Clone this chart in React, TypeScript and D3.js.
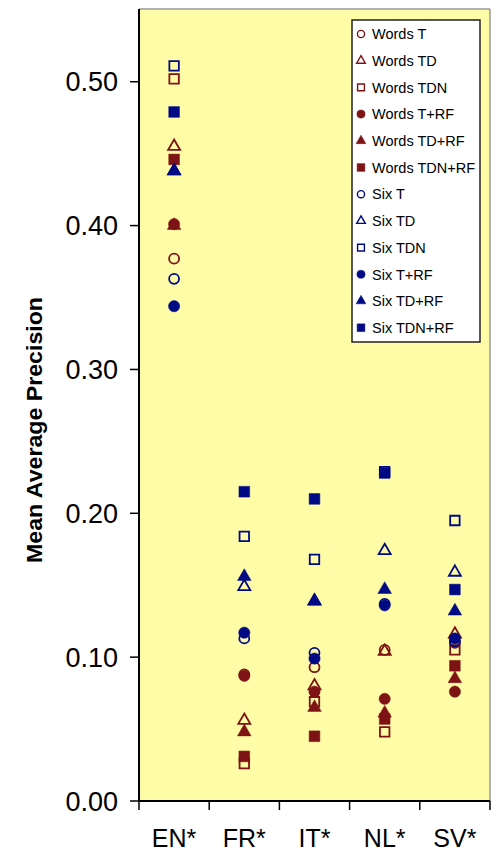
import React from "react";
import * as d3 from "d3";

const categories = ["EN*", "FR*", "IT*", "NL*", "SV*"];
const yTicks = [0, 0.1, 0.2, 0.3, 0.4, 0.5];

const seriesNames = [
  "Words T", "Words TD", "Words TDN", "Words T+RF", "Words TD+RF", "Words TDN+RF",
  "Six T", "Six TD", "Six TDN", "Six T+RF", "Six TD+RF", "Six TDN+RF",
];
const wordsT = [0.377, 0.088, 0.093, 0.105, 0.110];
const wordsTD = [0.455, 0.056, 0.080, 0.104, 0.116];
const wordsTDN = [0.502, 0.026, 0.069, 0.048, 0.105];
const wordsTRF = [0.401, 0.087, 0.076, 0.071, 0.076];
const wordsTDRF = [0.400, 0.048, 0.065, 0.061, 0.085];
const wordsTDNRF = [0.446, 0.031, 0.045, 0.057, 0.094];
const sixT = [0.363, 0.113, 0.103, 0.137, 0.111];
const sixTD = [0.438, 0.149, 0.139, 0.174, 0.159];
const sixTDN = [0.511, 0.184, 0.168, 0.229, 0.195];
const sixTRF = [0.344, 0.117, 0.099, 0.136, 0.113];
const sixTDRF = [0.438, 0.156, 0.139, 0.147, 0.132];
const sixTDNRF = [0.479, 0.215, 0.210, 0.228, 0.147];
const seriesValues = [wordsT, wordsTD, wordsTDN, wordsTRF, wordsTDRF, wordsTDNRF,
  sixT, sixTD, sixTDN, sixTRF, sixTDRF, sixTDNRF];

const RED = "#7d1315";
const BLUE = "#000a84";
const BG = "#fffca8";

type Shape = "circle" | "triangle" | "square";
const shapes: Shape[] = ["circle", "triangle", "square", "circle", "triangle", "square",
  "circle", "triangle", "square", "circle", "triangle", "square"];
const filled = [false, false, false, true, true, true, false, false, false, true, true, true];
const colors = seriesNames.map((n) => (n.startsWith("Words") ? RED : BLUE));

function markerPath(shape: Shape, scale: number, open: boolean) {
  const shrink = open ? 0.78 : 1;
  if (shape === "circle") return d3.symbol(d3.symbolCircle, 100 * scale * scale * shrink)()!;
  if (shape === "square") return d3.symbol(d3.symbolSquare, 115 * scale * scale * shrink)()!;
  return d3.symbol(d3.symbolTriangle, 80 * scale * scale * shrink)()!;
}

export default function App() {
  const W = 499, H = 854;
  const left = 139, right = 490, top = 9, bottom = 801;
  const x = d3.scaleBand().domain(categories).range([left, right]);
  const y = d3.scaleLinear().domain([0, 0.55]).range([bottom, bottom - 0.55 * 1438.5]);
  const font = "Arial, 'Liberation Sans', Helvetica, sans-serif";
  const boundaries = d3.range(categories.length + 1).map((i) => left + i * x.bandwidth());

  const legX = 352, legY = 20, legW = 128, legH = 322;
  const rowH = 26.7;

  return (
    <svg width={W} height={H} style={{ position: "absolute", left: 0, top: 0, background: "#fff" }}>
      <rect x={left} y={top} width={right - left} height={bottom - top} fill={BG} />
      <line x1={left} x2={right} y1={top} y2={top} stroke="#999" strokeWidth={1.5} />
      <line x1={right} x2={right} y1={top} y2={bottom} stroke="#999" strokeWidth={1.5} />
      <line x1={left} x2={left} y1={top} y2={bottom + 1} stroke="#000" strokeWidth={2} />
      <line x1={left} x2={right} y1={bottom} y2={bottom} stroke="#000" strokeWidth={2} />
      {yTicks.map((t) => (
        <g key={t}>
          <line x1={left - 9} x2={left} y1={y(t)} y2={y(t)} stroke="#000" strokeWidth={1.5} />
          <text x={118} y={y(t)} dy="0.36em" textAnchor="end" fontFamily={font} fontSize={27}>
            {d3.format(".2f")(t)}
          </text>
        </g>
      ))}
      {boundaries.map((b, i) => (
        <line key={i} x1={b} x2={b} y1={bottom} y2={bottom + 9} stroke="#000" strokeWidth={1.5} />
      ))}
      {categories.map((c) => (
        <text key={c} x={x(c)! + x.bandwidth() / 2} y={847} textAnchor="middle" fontFamily={font} fontSize={25}>
          {c}
        </text>
      ))}
      <text
        transform={`translate(42,430) rotate(-90)`}
        textAnchor="middle"
        fontFamily={font}
        fontWeight="bold"
        fontSize={22}
        textLength={266}
        lengthAdjust="spacingAndGlyphs"
      >
        Mean Average Precision
      </text>
      {seriesValues.map((vals, si) => (
        <g key={si}>
          {vals.map((v, ci) => (
            <path
              key={ci}
              d={markerPath(shapes[si], 1, !filled[si])}
              transform={`translate(${x(categories[ci])! + x.bandwidth() / 2},${y(v)})`}
              fill={filled[si] ? colors[si] : "none"}
              stroke={colors[si]}
              strokeWidth={filled[si] ? 0.5 : 1.8}
            />
          ))}
        </g>
      ))}
      <rect x={legX} y={legY} width={legW} height={legH} fill="#fff" stroke="#222" strokeWidth={1.5} />
      {seriesNames.map((n, i) => {
        const cy = legY + 14 + i * rowH;
        return (
          <g key={n}>
            <path
              d={markerPath(shapes[i], 0.72, !filled[i])}
              transform={`translate(${legX + 9},${cy})`}
              fill={filled[i] ? colors[i] : "none"}
              stroke={colors[i]}
              strokeWidth={filled[i] ? 0.5 : 1.4}
            />
            <text x={legX + 20} y={cy} dy="0.36em" fontFamily={font} fontSize={14.5}>
              {n}
            </text>
          </g>
        );
      })}
    </svg>
  );
}
